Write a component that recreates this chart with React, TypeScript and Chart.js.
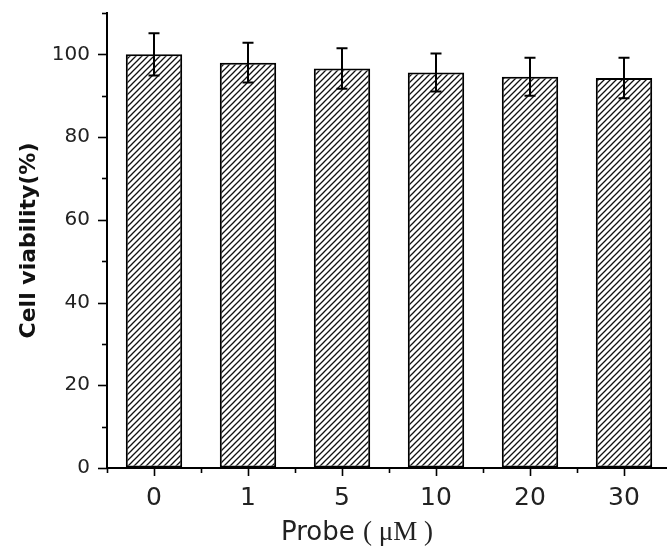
import React, { useEffect, useRef } from 'react';
import { Chart, registerables } from 'chart.js';

Chart.register(...registerables);

const categories = ['0', '1', '5', '10', '20', '30'];
const viability = [100.0, 98.0, 96.6, 95.6, 94.6, 94.3];
const errors = [5.1, 4.8, 4.9, 4.6, 4.6, 4.9];
const yMin = 0;
const yMax = 110;
const yMajorStep = 20;
const yMinorStep = 10;
const yTitle = 'Cell viability(%)';
const xTitleParts = ['Probe ', '( μM )'];

const SANS = '"DejaVu Sans", Verdana, sans-serif';
const SERIF = '"Liberation Serif", "DejaVu Serif", serif';

function makeHatch(): CanvasPattern | string {
  const c = document.createElement('canvas');
  const s = 6;
  c.width = s;
  c.height = s;
  const g = c.getContext('2d');
  if (!g) return '#fff';
  g.fillStyle = '#ffffff';
  g.fillRect(0, 0, s, s);
  g.strokeStyle = '#111';
  g.lineWidth = 1.3;
  g.beginPath();
  g.moveTo(0, s);
  g.lineTo(s, 0);
  g.moveTo(-1, 1);
  g.lineTo(1, -1);
  g.moveTo(s - 1, s + 1);
  g.lineTo(s + 1, s - 1);
  g.stroke();
  const p = g.createPattern(c, 'repeat');
  return p || '#fff';
}

const decorPlugin = {
  id: 'decor',
  afterDatasetsDraw(chart: any) {
    const ctx = chart.ctx;
    const xs = chart.scales.x;
    const ys = chart.scales.y;
    const meta = chart.getDatasetMeta(0);
    ctx.save();
    // error bars
    ctx.strokeStyle = '#000';
    ctx.lineWidth = 2;
    meta.data.forEach((el: any, i: number) => {
      const x = el.x;
      const t = ys.getPixelForValue(viability[i] + errors[i]);
      const b = ys.getPixelForValue(viability[i] - errors[i]);
      ctx.beginPath();
      ctx.moveTo(x, t);
      ctx.lineTo(x, b);
      ctx.moveTo(x - 5.5, t);
      ctx.lineTo(x + 5.5, t);
      ctx.moveTo(x - 5.5, b);
      ctx.lineTo(x + 5.5, b);
      ctx.stroke();
    });
    // y ticks (major + minor)
    const axisX = chart.chartArea.left;
    ctx.lineWidth = 1.6;
    for (let v = yMin; v <= yMax + 1e-9; v += yMinorStep) {
      const major = Math.abs(v % yMajorStep) < 1e-9;
      const y = Math.round(ys.getPixelForValue(v)) + 0.5;
      ctx.beginPath();
      ctx.moveTo(axisX, y);
      ctx.lineTo(axisX - (major ? 9 : 5), y);
      ctx.stroke();
    }
    // x ticks: major at categories, minor at boundaries
    const axisY = chart.chartArea.bottom;
    for (let i = 0; i < categories.length; i++) {
      const x = Math.round(xs.getPixelForValue(i)) + 0.5;
      ctx.beginPath();
      ctx.moveTo(x, axisY);
      ctx.lineTo(x, axisY + 8);
      ctx.stroke();
    }
    for (let i = 0; i <= categories.length; i++) {
      const x = Math.round(xs.getPixelForValue(i - 0.5)) + 0.5;
      ctx.beginPath();
      ctx.moveTo(x, axisY);
      ctx.lineTo(x, axisY + 5);
      ctx.stroke();
    }
    // x title with mixed fonts
    const fonts = [`26px ${SANS}`, `27px ${SERIF}`];
    let total = 0;
    const widths: number[] = [];
    xTitleParts.forEach((p, i) => {
      ctx.font = fonts[i];
      const w = ctx.measureText(p).width;
      widths.push(w);
      total += w;
    });
    const cx = xs.getPixelForValue(2) + 15;
    let x0 = cx - total / 2;
    ctx.fillStyle = '#222';
    ctx.textBaseline = 'alphabetic';
    ctx.textAlign = 'left';
    xTitleParts.forEach((p, i) => {
      ctx.font = fonts[i];
      ctx.fillText(p, x0, 540);
      x0 += widths[i];
    });
    ctx.restore();
  },
};

export default function App() {
  const ref = useRef<HTMLCanvasElement | null>(null);
  useEffect(() => {
    if (!ref.current) return;
    const hatch = makeHatch();
    const chart = new Chart(ref.current, {
      type: 'bar',
      data: {
        labels: categories,
        datasets: [
          {
            data: viability,
            backgroundColor: hatch as any,
            borderColor: '#000',
            borderWidth: 2,
            borderSkipped: false,
            barPercentage: 0.6,
            categoryPercentage: 1,
          },
        ],
      },
      options: {
        animation: false,
        responsive: false,
        devicePixelRatio: 1,
        layout: { padding: { top: 13, left: 0, right: 19, bottom: 0 } },
        plugins: {
          legend: { display: false },
          tooltip: { enabled: false },
        },
        scales: {
          x: {
            offset: true,
            grid: { display: true, drawOnChartArea: false, drawTicks: false },
            border: { display: true, color: '#000', width: 2 },
            ticks: {
              color: '#222',
              font: { family: SANS, size: 25 },
              padding: 15,
              maxRotation: 0,
            },
            afterFit: (s: any) => {
              s.height = 81;
              s.paddingLeft = 0;
              s.paddingRight = 0;
            },
          },
          y: {
            min: yMin,
            max: yMax,
            grid: { display: true, drawOnChartArea: false, drawTicks: false },
            border: { display: true, color: '#000', width: 2 },
            ticks: {
              stepSize: yMajorStep,
              includeBounds: false,
              color: '#222',
              font: { family: SANS, size: 20 },
              padding: 17,
            },
            title: {
              display: true,
              text: yTitle,
              color: '#111',
              font: { family: SANS, size: 22, weight: 'bold' },
              padding: { top: 16, bottom: 0 },
            },
            afterFit: (s: any) => {
              s.width = 107;
              s.paddingTop = 0;
              s.paddingBottom = 0;
            },
          },
        },
      },
      plugins: [decorPlugin],
    });
    return () => chart.destroy();
  }, []);
  return (
    <div style={{ position: 'fixed', left: 0, top: 0, width: 690, height: 549, background: '#fff' }}>
      <canvas ref={ref} width={690} height={549} style={{ display: 'block' }} />
    </div>
  );
}
